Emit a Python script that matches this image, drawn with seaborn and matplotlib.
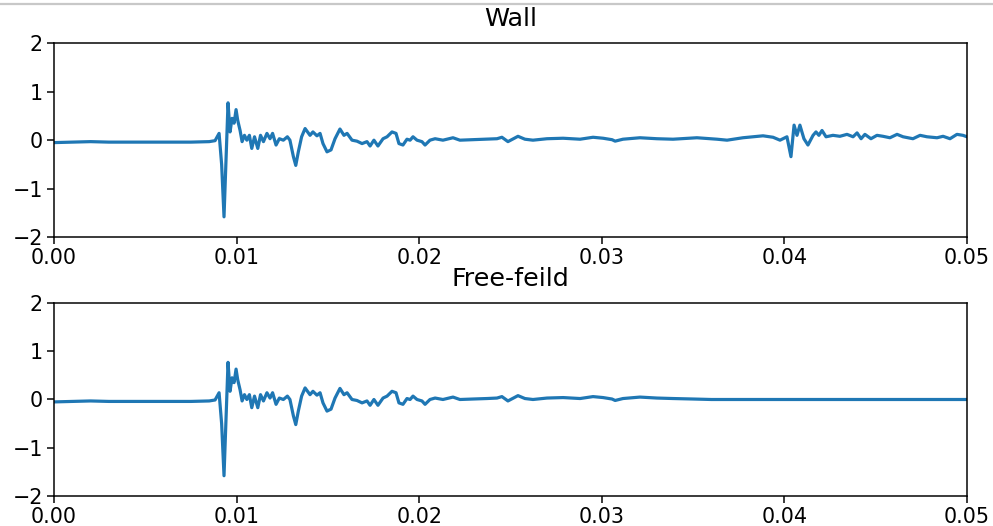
import numpy as np
import matplotlib
matplotlib.use("Agg")
import matplotlib.pyplot as plt
from matplotlib.lines import Line2D
import seaborn as sns

# direct arrival, common to both records (time in s, pressure)
time_early = [0.0, 0.0010, 0.0020, 0.0030, 0.0045, 0.0060, 0.0075, 0.0085,
              0.00882, 0.00904, 0.00918, 0.00931, 0.00942, 0.00953, 0.00964,
              0.00975, 0.00986, 0.00997, 0.01006, 0.01019, 0.01030, 0.01043,
              0.01056, 0.01070, 0.01083, 0.01098, 0.01116, 0.01131, 0.01147,
              0.01166, 0.01183, 0.01197, 0.01216, 0.01234, 0.01256, 0.01278,
              0.01292, 0.01311, 0.01324, 0.01338, 0.01356, 0.01375, 0.01402,
              0.01418, 0.01440, 0.01457, 0.01473, 0.01495, 0.01517, 0.01539,
              0.01566, 0.01588, 0.01605, 0.01632, 0.01659, 0.01687, 0.01714,
              0.01731, 0.01752, 0.01774, 0.01802, 0.01824, 0.01851, 0.01873,
              0.01889, 0.01911, 0.01933, 0.01950, 0.01966, 0.01988, 0.02015,
              0.02032, 0.02059, 0.02087, 0.02130, 0.02185, 0.02223, 0.02295,
              0.02371, 0.02426, 0.02453, 0.02486, 0.02541, 0.02579, 0.02623,
              0.02700, 0.02788, 0.02881, 0.02952, 0.03007, 0.03056, 0.03073,
              0.03116, 0.03209, 0.03302]
signal_early = [-0.05, -0.04, -0.03, -0.04, -0.04, -0.04, -0.04, -0.03,
                -0.01, 0.14, -0.5, -1.58, -0.4, 0.77, 0.17,
                0.45, 0.35, 0.63, 0.41, 0.2, -0.03, 0.1,
                0.0, 0.1, -0.17, 0.07, -0.17, 0.1, -0.03,
                0.14, 0.03, 0.14, -0.1, 0.03, 0.0, 0.07,
                0.0, -0.34, -0.52, -0.24, 0.07, 0.24, 0.1,
                0.17, 0.09, 0.14, -0.07, -0.24, -0.2, 0.03,
                0.23, 0.1, 0.14, 0.0, -0.02, -0.07, -0.03,
                -0.12, 0.0, -0.12, 0.03, 0.07, 0.17, 0.14,
                -0.07, -0.1, 0.02, 0.0, 0.07, 0.0, -0.03,
                -0.1, 0.0, 0.03, 0.0, 0.05, 0.0, 0.01,
                0.02, 0.03, 0.06, -0.03, 0.08, 0.02, 0.0,
                0.03, 0.04, 0.02, 0.06, 0.04, 0.01, -0.02,
                0.02, 0.05, 0.03]

# wall record: reflection around 0.04 s
time_wall_tail = [0.03390, 0.03521, 0.03631, 0.03686, 0.03773, 0.03883,
                  0.03938, 0.03976, 0.04014, 0.04036, 0.04053, 0.04069,
                  0.04085, 0.04107, 0.04129, 0.04157, 0.04173, 0.04189,
                  0.04206, 0.04228, 0.04266, 0.04304, 0.04343, 0.04376,
                  0.04398, 0.04420, 0.04441, 0.04474, 0.04507, 0.04540,
                  0.04578, 0.04617, 0.04650, 0.04704, 0.04743, 0.04781,
                  0.04836, 0.04869, 0.04907, 0.04945, 0.04978, 0.05000]
wall_tail = [0.02, 0.05, 0.02, 0.0, 0.05, 0.09,
             0.06, 0.0, 0.07, -0.34, 0.31, 0.1,
             0.31, 0.03, -0.1, 0.1, 0.17, 0.1,
             0.2, 0.07, 0.1, 0.08, 0.12, 0.07,
             0.15, 0.03, 0.12, 0.03, 0.1, 0.08,
             0.05, 0.12, 0.07, 0.03, 0.1, 0.07,
             0.05, 0.08, 0.03, 0.12, 0.1, 0.07]

# free-field record: signal dies out
time_free_tail = [0.03390, 0.03500, 0.03600, 0.05000]
free_tail = [0.02, 0.01, 0.0, 0.0]

t_wall = np.array(time_early + time_wall_tail)
p_wall = np.array(signal_early + wall_tail)
t_free = np.array(time_early + time_free_tail)
p_free = np.array(signal_early + free_tail)

fig = plt.figure(figsize=(993 / 135, 526 / 135), dpi=135)
ax1 = fig.add_axes([0.0544, 0.549, 0.9194, 0.369])
ax2 = fig.add_axes([0.0544, 0.057, 0.9194, 0.367])

for ax, t, p, title in [(ax1, t_wall, p_wall, "Wall"),
                        (ax2, t_free, p_free, "Free-feild")]:
    sns.lineplot(x=t, y=p, ax=ax, color="#1f77b4", linewidth=1.7,
                 sort=False, estimator=None)
    ax.set_xlim(0, 0.05)
    ax.set_ylim(-2, 2)
    ax.set_yticks([-2, -1, 0, 1, 2])
    ax.set_xticks([0.0, 0.01, 0.02, 0.03, 0.04, 0.05])
    ax.tick_params(labelsize=11, pad=2.5)
    ax.set_title(title, fontsize=13.5, pad=9)

# screenshot border line at the top
fig.add_artist(Line2D([0, 1], [1 - 4 / 526, 1 - 4 / 526],
                      color="#c8c8c8", linewidth=1.2))

fig.savefig("out.png", dpi=135)
